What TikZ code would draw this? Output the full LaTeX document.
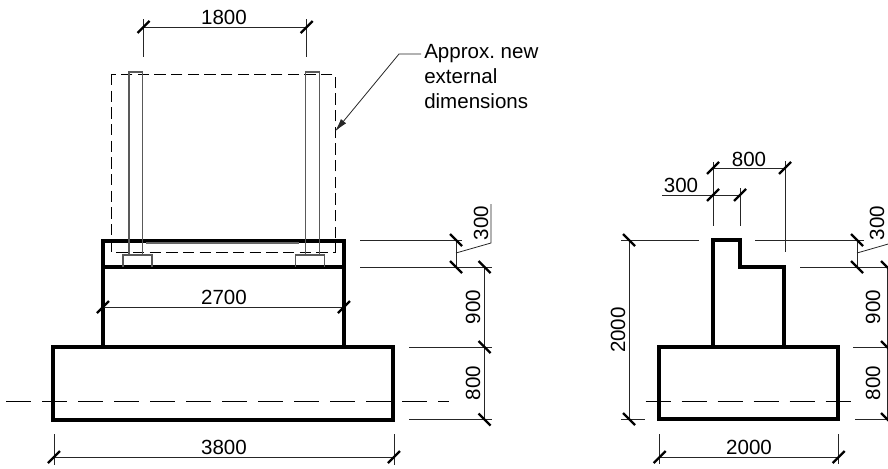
\documentclass[tikz,border=0pt]{standalone}
\usepackage{fontspec}
\setmainfont{Liberation Sans}
\usepackage{tikz}
\usetikzlibrary{arrows.meta}

\tikzset{
  outline/.style={line width=3pt, line join=miter},
  thinline/.style={line width=0.6pt, black!85},
  greyline/.style={line width=1pt, black!65},
  dimtick/.style={line width=1.7pt},
  centreline/.style={line width=0.6pt, dash pattern=on 18.75pt off 8.25pt},
  newline/.style={line width=0.7pt, dash pattern=on 8.5pt off 4pt},
  dimlabel/.style={inner sep=0pt, font=\fontsize{15.4}{18.75}\selectfont},
}

\begin{document}
\frenchspacing
\begin{tikzpicture}[x=0.75pt, y=-0.75pt]
\useasboundingbox (0,0) rectangle (888,468);

% front elevation
\draw[outline] (102.5,240.5) rectangle (344,267);
\draw[outline] (102.5,267) -- (102.5,347) (344,267) -- (344,347);
\draw[outline] (53,347) rectangle (393,419.5);
\draw[line width=1.6pt, black!60] (146,243) -- (299,243);
\draw[newline] (111.7,74) rectangle (335,252.7);
\foreach \colx in {129,305.7} {
  \draw[greyline] (\colx,255) -- (\colx,72) -- ++(13.6,0) -- ++(0,183);
}
\foreach \padx in {123,295.7} {
  \draw[greyline] (\padx,267) -- (\padx,255) -- ++(29,0) -- ++(0,12);
}
\draw[centreline] (6,401.7) -- (449,401.7);

% front elevation dimensions
\draw[thinline] (143.5,19) -- (143.5,57) (306.7,19) -- (306.7,57) (143.5,27) -- (306.7,27);
\draw[thinline] (103,307) -- (344,307);
\draw[thinline] (54,434) -- (54,465) (394,434) -- (394,465) (54,457) -- (394,457);
\draw[thinline] (360,240) -- (462,240) (360,267) -- (492,267) (456,240) -- (456,267);
\draw[thinline] (409,347) -- (492,347) (409,419.5) -- (492,419.5) (484.5,267) -- (484.5,419.5);
\draw[thinline] (456,253) -- (491,243) -- (491,204);
\node[dimlabel] (dimtop) at (224,17) {1800};
\node[dimlabel] (dimmid) at (224,297) {2700};
\node[dimlabel] (dimbase) at (224,447) {3800};
\node[dimlabel, rotate=90] (dimcap) at (481,223) {300};
\node[dimlabel, rotate=90] (dimwall) at (473,307) {900};
\node[dimlabel, rotate=90] (dimfoot) at (473,383) {800};

% note
\node[dimlabel, anchor=north west, align=left] (note) at (424,44) {Approx. new\\external\\dimensions};
\coordinate (notestart) at (421,54);
\coordinate (noteknee) at (399,54);
\coordinate (notetip) at (335,131.5);
\draw[thinline, -{Latex[length=10pt,width=5pt]}] (notestart) -- (noteknee) -- (notetip);

% section
\draw[outline] (712.7,347) -- (712.7,239.5) -- (740,239.5) -- (740,266.5) -- (784,266.5) -- (784,347);
\draw[outline] (659,347) rectangle (838,419);
\draw[centreline] (645.7,401) -- (855,401);

% section dimensions
\draw[thinline] (713,162) -- (713,226) (785,161) -- (785,252) (713,168) -- (785,168);
\draw[thinline] (662,195) -- (740,195) (740,188) -- (740,226);
\draw[thinline] (621,240) -- (699,240) (621,419) -- (645,419) (629,240) -- (629,419);
\draw[thinline] (659.7,434) -- (659.7,464) (838.7,434) -- (838.7,464) (659.7,457) -- (838.7,457);
\draw[thinline] (755,240) -- (864,240) (800,267) -- (888,267) (857,240) -- (857,267);
\draw[thinline] (853,347) -- (888,347) (855,419) -- (888,419) (887,267) -- (887,419);
\draw[thinline] (857,253) -- (890,243.5) -- (890,204);
\node[dimlabel] (secwidth) at (749,159) {800};
\node[dimlabel] (seccap) at (681,185) {300};
\node[dimlabel] (secbase) at (749,447) {2000};
\node[dimlabel, rotate=90] (secheight) at (618,330) {2000};
\node[dimlabel, rotate=90] (seccapv) at (877,223) {300};
\node[dimlabel, rotate=90] (secwall) at (873,307) {900};
\node[dimlabel, rotate=90] (secfoot) at (873,383) {800};

% ticks on horizontal runs
\foreach \tx/\ty in {143.5/27,306.7/27,103/307,344/307,54/457,394/457,713/168,785/168,713/195,740/195,659.7/457,838.7/457} {
  \draw[dimtick] (\tx-6,\ty+6) -- (\tx+6,\ty-6);
}
% ticks on vertical runs
\foreach \tx/\ty in {456/240,456/267,484.5/267,484.5/347,484.5/419.5,629/240,629/419,857/240,857/267,887/267,887/347,887/419} {
  \draw[dimtick] (\tx-6,\ty-6) -- (\tx+6,\ty+6);
}
\end{tikzpicture}
\end{document}
